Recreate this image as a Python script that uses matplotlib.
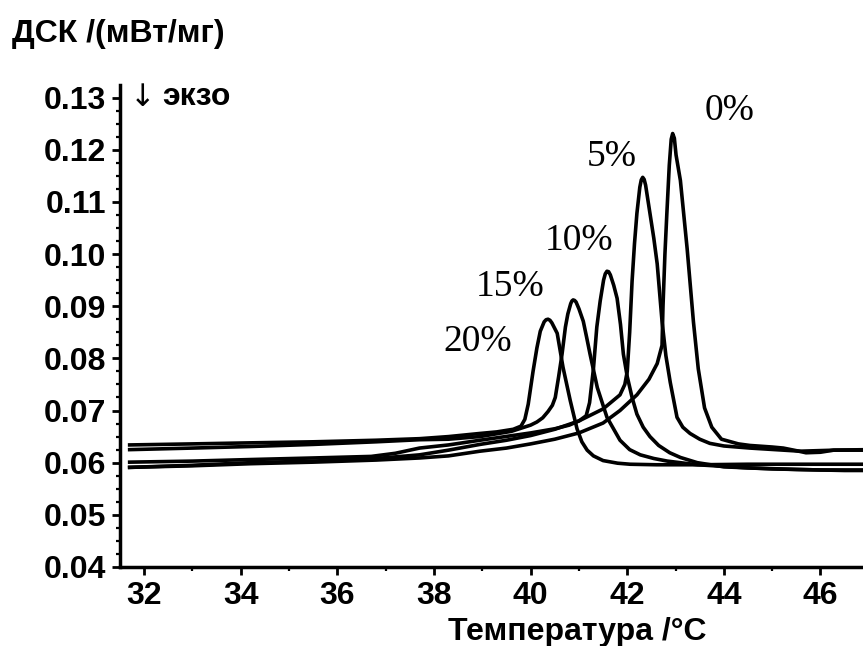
import matplotlib
matplotlib.use("Agg")
import matplotlib.pyplot as plt
from matplotlib.ticker import MultipleLocator, FormatStrFormatter

plt.rcParams['font.family'] = ['Liberation Sans', 'DejaVu Sans']

# DSC curves: temperature (°C) and heat flow (mW/mg)
x_0 = [31.7, 33.0, 34.2, 35.5, 36.8, 37.7, 38.3, 38.95, 39.5, 40.0,
       40.5, 41.0, 41.5, 41.85, 42.2, 42.45, 42.62, 42.72, 42.74, 42.78,
       42.82, 42.87, 42.91, 42.94, 42.975, 43.01, 43.1, 43.24, 43.37, 43.47,
       43.6, 43.75, 43.95, 44.3, 44.54, 45.0, 45.23, 45.5, 45.7, 46.0,
       46.27, 47.0]
y_0 = [0.0591, 0.0594, 0.0598, 0.0601, 0.0605, 0.0609, 0.0613, 0.0622, 0.0628, 0.0636,
       0.0645, 0.0657, 0.0676, 0.0700, 0.0730, 0.0760, 0.0790, 0.0825, 0.0900, 0.1000,
       0.1078, 0.1170, 0.1220, 0.1231, 0.1222, 0.1190, 0.1141, 0.1010, 0.0870, 0.0780,
       0.0705, 0.0668, 0.0645, 0.0636, 0.0633, 0.0630, 0.0628, 0.0623, 0.0619, 0.0620,
       0.0624, 0.0625]

x_5 = [31.7, 33.0, 34.2, 35.5, 36.8, 37.7, 38.3, 38.95, 39.5, 40.0,
       40.5, 41.0, 41.5, 41.85, 41.95, 42.0, 42.05, 42.1, 42.15, 42.2,
       42.26, 42.29, 42.32, 42.35, 42.38, 42.47, 42.55, 42.62, 42.72, 42.8,
       42.89, 43.03, 43.15, 43.3, 43.5, 43.71, 44.0, 44.54, 45.58, 46.3,
       47.0]
y_5 = [0.0591, 0.0595, 0.0600, 0.0603, 0.0608, 0.0615, 0.0624, 0.0635, 0.0643, 0.0652,
       0.0664, 0.0680, 0.0703, 0.0730, 0.0750, 0.0775, 0.0850, 0.0948, 0.1020, 0.1078,
       0.1128, 0.1142, 0.1147, 0.1143, 0.1132, 0.1078, 0.1030, 0.0981, 0.0871, 0.0805,
       0.0754, 0.0687, 0.0668, 0.0656, 0.0645, 0.0637, 0.0632, 0.0628, 0.0622, 0.0624,
       0.0624]

x_10 = [31.7, 33.0, 34.2, 35.5, 36.7, 37.2, 37.7, 38.3, 38.95, 40.0,
        40.5, 40.8, 41.0, 41.15, 41.22, 41.3, 41.37, 41.44, 41.51, 41.545,
        41.58, 41.615, 41.65, 41.72, 41.79, 41.86, 41.92, 42.0, 42.1, 42.2,
        42.33, 42.47, 42.65, 42.88, 43.1, 43.45, 44.0, 45.0, 46.0, 47.0]
y_10 = [0.0601, 0.0603, 0.0606, 0.0609, 0.0612, 0.0618, 0.0628, 0.0634, 0.0643, 0.0657,
        0.0665, 0.0672, 0.0680, 0.0690, 0.0715, 0.0780, 0.0860, 0.0910, 0.0950, 0.0962,
        0.0967, 0.0966, 0.0960, 0.0940, 0.0915, 0.0865, 0.0808, 0.0765, 0.0725, 0.0693,
        0.0668, 0.0650, 0.0633, 0.0619, 0.0610, 0.0600, 0.0592, 0.0588, 0.0586, 0.0586]

x_15 = [31.7, 33.0, 34.2, 35.5, 36.8, 37.7, 38.3, 38.95, 39.6, 40.0,
        40.13, 40.25, 40.36, 40.45, 40.51, 40.58, 40.65, 40.72, 40.77, 40.83,
        40.855, 40.88, 40.91, 40.94, 41.0, 41.09, 41.16, 41.23, 41.38, 41.58,
        41.85, 42.05, 42.27, 42.55, 42.83, 43.45, 44.5, 45.5, 46.5, 47.0]
y_15 = [0.0625, 0.0628, 0.0631, 0.0635, 0.0640, 0.0644, 0.0645, 0.0650, 0.0660, 0.0672,
        0.0678, 0.0686, 0.0698, 0.0710, 0.0725, 0.0765, 0.0808, 0.0860, 0.0885, 0.0905,
        0.0910, 0.0912, 0.0911, 0.0908, 0.0895, 0.0871, 0.0840, 0.0808, 0.0744, 0.0687,
        0.0643, 0.0625, 0.0615, 0.0608, 0.0603, 0.0596, 0.0590, 0.0587, 0.0585, 0.0585]

x_20 = [31.7, 33.0, 34.2, 35.5, 36.8, 37.7, 38.3, 38.95, 39.3, 39.64,
        39.8, 39.88, 39.95, 40.05, 40.13, 40.2, 40.28, 40.32, 40.36, 40.40,
        40.44, 40.55, 40.67, 40.82, 40.96, 41.06, 41.17, 41.3, 41.5, 41.8,
        42.06, 42.6, 43.5, 44.5, 45.5, 46.5, 47.0]
y_20 = [0.0634, 0.0636, 0.0638, 0.0640, 0.0643, 0.0646, 0.0650, 0.0656, 0.0659, 0.0664,
        0.0670, 0.0683, 0.0712, 0.0775, 0.0820, 0.0852, 0.0870, 0.0874, 0.0875, 0.0873,
        0.0868, 0.0848, 0.0783, 0.0719, 0.0665, 0.0640, 0.0624, 0.0613, 0.0604, 0.0599,
        0.0597, 0.0596, 0.0596, 0.0597, 0.0597, 0.0597, 0.0597]

curves = [(x_0, y_0), (x_5, y_5), (x_10, y_10), (x_15, y_15), (x_20, y_20)]

# curve labels and where they sit (data coords)
labels = ['0%', '5%', '10%', '15%', '20%']
label_x = [44.11, 41.68, 41.0, 39.57, 38.91]
label_y = [0.1274, 0.1186, 0.1025, 0.0938, 0.0831]

fig = plt.figure(figsize=(8.63, 6.46), dpi=100)
ax = fig.add_axes([120/863, 1 - 567/646, 1 - 120/863, (567 - 85)/646])

for xs, ys in curves:
    ax.plot(xs, ys, color='black', lw=2.6, solid_joinstyle='round')

for lab, lx, ly in zip(labels, label_x, label_y):
    ax.text(lx, ly, lab, ha='center', va='center', fontsize=27,
            family='Liberation Serif')

ax.set_xlim(31.5, 46.88)
ax.set_ylim(0.04, 0.1324)
ax.xaxis.set_major_locator(MultipleLocator(2))
ax.xaxis.set_minor_locator(MultipleLocator(1))
ax.yaxis.set_major_locator(MultipleLocator(0.01))
ax.yaxis.set_minor_locator(MultipleLocator(0.0025))
ax.yaxis.set_major_formatter(FormatStrFormatter('%.2f'))

for s in ['top', 'right']:
    ax.spines[s].set_visible(False)
for s in ['left', 'bottom']:
    ax.spines[s].set_linewidth(2.5)

ax.tick_params(which='major', direction='out', length=6, width=2, labelsize=23, pad=4)
ax.tick_params(which='minor', direction='out', length=3, width=1.6)
for t in ax.get_xticklabels() + ax.get_yticklabels():
    t.set_fontweight('bold')

fig.text(12/863, 1 - 34/646, 'ДСК /(мВт/мг)', fontsize=23, fontweight='bold',
         ha='left', va='center')
fig.text(143/863, 1 - 97/646, '↓', fontsize=22, family='DejaVu Sans',
         ha='center', va='center')
fig.text(162/863, 1 - 97/646, 'экзо', fontsize=23, fontweight='bold',
         ha='left', va='center')
fig.text(577/863, 1 - 640/646, 'Температура /°C', fontsize=23, fontweight='bold',
         ha='center', va='baseline')

fig.savefig('out.png', dpi=100)
